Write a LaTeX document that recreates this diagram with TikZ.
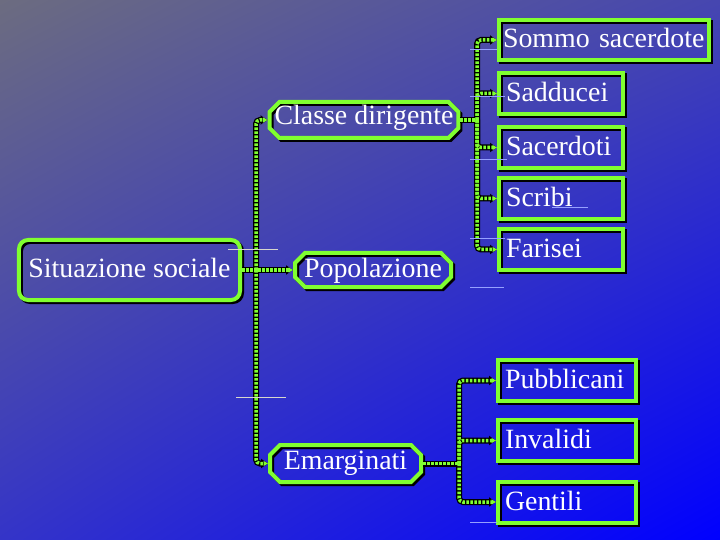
\documentclass[tikz,border=0pt]{standalone}
\usepackage{fontspec}
\setmainfont{Liberation Serif}
\usetikzlibrary{shapes.misc,arrows.meta,shadings}
\definecolor{lime}{RGB}{128,255,48}
\definecolor{bgUL}{RGB}{108,108,128}
\definecolor{bgUR}{RGB}{70,70,176}
\definecolor{bgLL}{RGB}{52,52,200}
\definecolor{bgLR}{RGB}{0,0,255}
\definecolor{faint}{RGB}{150,160,255}
\definecolor{faintw}{RGB}{215,215,205}
\newcommand\connset[1]{%
  \draw[#1] (sit.east) -- (pop.west);
  \draw[#1] (j1) |- (classe.west);
  \draw[#1] (j1) |- (emarg.west);
  \draw[#1,-] (classe.east) -- ([xshift=2bp]j2);
  \draw[#1] (j2) |- (sommo.west);
  \draw[#1] (j2) |- (sadd.west);
  \draw[#1] (j2) |- (sacer.west);
  \draw[#1] (j2) |- (scribi.west);
  \draw[#1] (j2) |- (faris.west);
  \draw[#1,-] (emarg.east) -- ([xshift=2bp]j3);
  \draw[#1] (j3) |- (pubbl.west);
  \draw[#1] (j3) |- (inval.west);
  \draw[#1] (j3) |- (gent.west);
}
\begin{document}
\begin{tikzpicture}[x=1bp,y=-1bp,
  base/.style={draw=lime, line width=4bp, text=white,
    font=\fontsize{28}{30}\selectfont, inner sep=0pt,
    text height=18bp, text depth=2bp,
    preaction={draw=black, line width=4bp, transform canvas={shift={(2bp,-2bp)}}}},
  rbox/.style={base, rectangle, minimum height=41bp, align=left, inner xsep=7bp},
  cbox/.style={base, chamfered rectangle, chamfered rectangle xsep=5bp, chamfered rectangle ysep=5bp},
  ubox/.style={base, rectangle, rounded corners=9bp},
  cbg/.style={draw=black, line width=6bp, rounded corners=4bp, -{Triangle[length=7bp,width=9bp]}},
  cfg/.style={draw=lime, line width=3.5bp, dash pattern=on 2.6bp off 1.4bp, rounded corners=4bp, -{Triangle[length=4.5bp,width=5bp]}},
  thinl/.style={draw=faint, line width=0.8bp},
  thinw/.style={draw=faintw, line width=0.8bp}]
\useasboundingbox (0,0) rectangle (720,540);
\shade[upper left=bgUL, upper right=bgUR, lower left=bgLL, lower right=bgLR] (0,0) rectangle (720,540);

% left nodes
\node[ubox, minimum width=221bp, minimum height=60bp] (sit) at (129.5,270) {Situazione sociale};
\node[cbox, minimum width=188bp, minimum height=36bp, text depth=8bp] (classe) at (364,120) {Classe dirigente};
\node[cbox, minimum width=156bp, minimum height=34bp] (pop) at (373,270) {Popolazione};
\node[cbox, minimum width=151bp, minimum height=37bp, text depth=7bp] (emarg) at (345.5,463.5) {Emarginati};

% right nodes
\node[rbox, text width=202bp, inner xsep=4bp, minimum height=40bp] (sommo) at (604,40) {\mbox{Sommo sacerdote}};
\node[rbox, text width=110bp] (sadd) at (561,93.5) {Sadducei};
\node[rbox, text width=110bp] (sacer) at (561,147.5) {Sacerdoti};
\node[rbox, text width=110bp] (scribi) at (561,198.5) {Scribi};
\node[rbox, text width=110bp] (faris) at (561,249.5) {Farisei};
\node[rbox, text width=124bp] (pubbl) at (567,380.5) {Pubblicani};
\node[rbox, text width=124bp] (inval) at (567,440.5) {Invalidi};
\node[rbox, text width=124bp] (gent) at (567,502) {Gentili};

% junctions
\coordinate (j1) at (256,270);
\coordinate (j2) at (477,120);
\coordinate (j3) at (459,463.5);

\connset{cbg}
\connset{cfg}

% faint stray lines
\draw[thinw] (228,249) -- (278,249);
\draw[thinw] (236,397) -- (286,397);
\draw[thinl] (470,49) -- (497,49);
\draw[thinl] (470,96) -- (505,96);
\draw[thinl] (470,159) -- (507,159);
\draw[thinl] (552,207) -- (588,207);
\draw[thinl] (470,238) -- (505,238);
\draw[thinl] (470,287) -- (504,287);
\draw[thinl] (470,522) -- (497,522);
\end{tikzpicture}
\end{document}
